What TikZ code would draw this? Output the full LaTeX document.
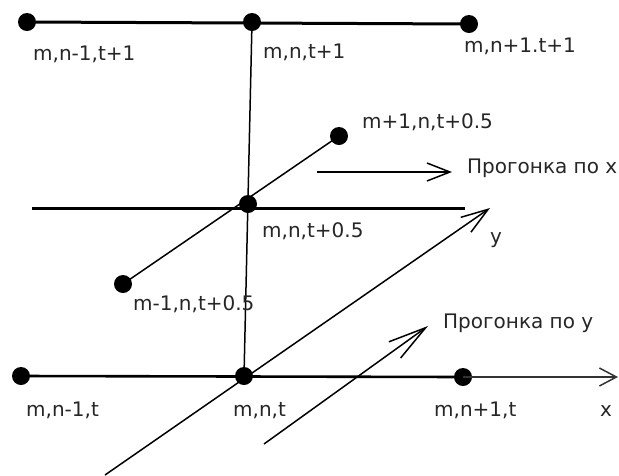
\documentclass[tikz,border=0pt]{standalone}
\usepackage{fontspec}
\setmainfont{DejaVu Sans}
\usetikzlibrary{arrows.meta}
\tikzset{
  dot/.style={circle,fill=black,inner sep=0pt,minimum size=18pt},
  lbl/.style={anchor=base west,inner sep=0pt,font=\fontsize{20}{24}\selectfont,text=black!85},
  thick line/.style={line width=3pt},
  thin line/.style={line width=1.5pt},
  barb/.style={-{Straight Barb[length=#1,width=18pt,line width=1.5pt]}},
}
\begin{document}
\begin{tikzpicture}[x=1pt,y=-1pt]
\useasboundingbox (0,0) rectangle (619,475);
% dots
\node[dot] (A) at (27,22) {};
\node[dot] (B) at (252,22) {};
\node[dot] (C) at (469,24) {};
\node[dot] (D) at (339,136) {};
\node[dot] (E) at (248,204) {};
\node[dot] (F) at (123,284) {};
\node[dot] (G) at (21,376) {};
\node[dot] (H) at (244,376) {};
\node[dot] (I) at (463,377) {};
% free ends
\coordinate (ML) at (32,208);
\coordinate (MR) at (465,208);
\coordinate (XT) at (618,377);
\coordinate (YS) at (105,475);
\coordinate (YT) at (490,208);
\coordinate (PXs) at (317,172);
\coordinate (PXt) at (452,172);
\coordinate (PYs) at (264,444);
\coordinate (PYt) at (428,326);
% lines
\draw[thick line] (A.center) -- (C.center);
\draw[thick line] (ML) -- (MR);
\draw[thin line] (B.center) -- (H.center);
\draw[thin line] (F.center) -- (D.center);
\draw[line width=2.6pt] (G.center) -- (I.center);
\draw[line width=1.5pt,black!80,barb=17pt] (I.center) -- (XT);
\draw[thin line,barb=27pt] (YS) -- (YT);
\draw[thin line,barb=23pt] (PXs) -- (PXt);
\draw[thin line,-{Straight Barb[length=38pt,width=20pt,line width=1.5pt]}] (PYs) -- (PYt);
% labels
\node[lbl] (lA) at (33,60) {m,n-1,t+1};
\node[lbl] (lB) at (263,58) {m,n,t+1};
\node[lbl] (lC) at (464,52) {m,n+1.t+1};
\node[lbl] (lD) at (362,128) {m+1,n,t+0.5};
\node[lbl] (lPX) at (467,173) {Прогонка по x};
\node[lbl] (lE) at (262,237) {m,n,t+0.5};
\node[lbl] (lY) at (490,243) {y};
\node[lbl] (lF) at (133,310) {m-1,n,t+0.5};
\node[lbl] (lPY) at (443,328) {Прогонка по y};
\node[lbl] (lG) at (26,416) {m,n-1,t};
\node[lbl] (lH) at (233,416) {m,n,t};
\node[lbl] (lI) at (434,416) {m,n+1,t};
\node[lbl] (lX) at (600,416) {x};
\end{tikzpicture}
\end{document}
